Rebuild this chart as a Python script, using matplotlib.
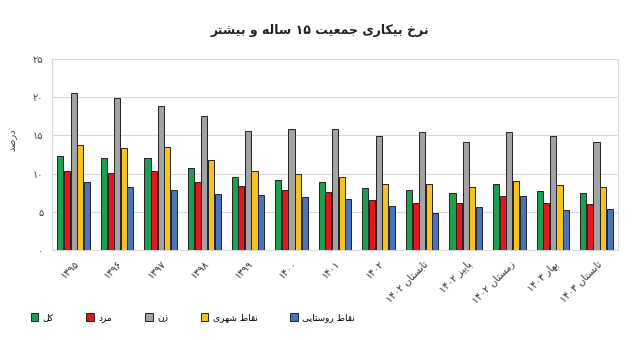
import re
import numpy as np
import matplotlib
matplotlib.use('Agg')
import matplotlib.pyplot as plt

plt.rcParams['font.family'] = ['DejaVu Sans']

# Persian text needs shaping (presentation forms) and right-to-left ordering
FORMS = {
    'ا': ('\uFE8D', '\uFE8E', None, None),
    'ب': ('\uFE8F', '\uFE90', '\uFE91', '\uFE92'),
    'پ': ('\uFB56', '\uFB57', '\uFB58', '\uFB59'),
    'ت': ('\uFE95', '\uFE96', '\uFE97', '\uFE98'),
    'ج': ('\uFE9D', '\uFE9E', '\uFE9F', '\uFEA0'),
    'خ': ('\uFEA5', '\uFEA6', '\uFEA7', '\uFEA8'),
    'د': ('\uFEA9', '\uFEAA', None, None),
    'ر': ('\uFEAD', '\uFEAE', None, None),
    'ز': ('\uFEAF', '\uFEB0', None, None),
    'س': ('\uFEB1', '\uFEB2', '\uFEB3', '\uFEB4'),
    'ش': ('\uFEB5', '\uFEB6', '\uFEB7', '\uFEB8'),
    'ص': ('\uFEB9', '\uFEBA', '\uFEBB', '\uFEBC'),
    'ط': ('\uFEC1', '\uFEC2', '\uFEC3', '\uFEC4'),
    'ع': ('\uFEC9', '\uFECA', '\uFECB', '\uFECC'),
    'ق': ('\uFED5', '\uFED6', '\uFED7', '\uFED8'),
    'ک': ('\uFB8E', '\uFB8F', '\uFB90', '\uFB91'),
    'ل': ('\uFEDD', '\uFEDE', '\uFEDF', '\uFEE0'),
    'م': ('\uFEE1', '\uFEE2', '\uFEE3', '\uFEE4'),
    'ن': ('\uFEE5', '\uFEE6', '\uFEE7', '\uFEE8'),
    'ه': ('\uFEE9', '\uFEEA', '\uFEEB', '\uFEEC'),
    'و': ('\uFEED', '\uFEEE', None, None),
    'ی': ('\uFBFC', '\uFBFD', '\uFBFE', '\uFBFF'),
}


def fa(text):
    out = []
    for i, c in enumerate(text):
        if c not in FORMS:
            out.append(c)
            continue
        iso, fin, ini, med = FORMS[c]
        prev = text[i - 1] if i > 0 else ''
        nxt = text[i + 1] if i + 1 < len(text) else ''
        jp = prev in FORMS and FORMS[prev][2] is not None
        jn = ini is not None and nxt in FORMS
        if jp and jn:
            out.append(med)
        elif jp:
            out.append(fin)
        elif jn:
            out.append(ini)
        else:
            out.append(iso)
    s = ''.join(out)[::-1]
    return re.sub(r'[\u06F0-\u06F9]+', lambda m: m.group(0)[::-1], s)


# data
periods = ['۱۳۹۵', '۱۳۹۶', '۱۳۹۷', '۱۳۹۸', '۱۳۹۹', '۱۴۰۰', '۱۴۰۱', '۱۴۰۲',
           'تابستان ۱۴۰۲', 'پاییز ۱۴۰۲', 'زمستان ۱۴۰۲', 'بهار ۱۴۰۳', 'تابستان ۱۴۰۳']
kol = [12.3, 12.1, 12.1, 10.7, 9.6, 9.2, 8.9, 8.1, 7.9, 7.5, 8.6, 7.7, 7.4]
mard = [10.4, 10.1, 10.4, 8.9, 8.4, 7.9, 7.6, 6.5, 6.2, 6.1, 7.1, 6.1, 6.0]
zan = [20.6, 19.9, 18.8, 17.5, 15.6, 15.9, 15.8, 14.9, 15.4, 14.1, 15.5, 14.9, 14.1]
shahri = [13.7, 13.4, 13.5, 11.8, 10.4, 9.9, 9.6, 8.7, 8.7, 8.2, 9.0, 8.5, 8.2]
roostaei = [8.9, 8.3, 7.9, 7.3, 7.2, 6.9, 6.7, 5.8, 4.9, 5.6, 7.1, 5.2, 5.3]

series_names = ['کل', 'مرد', 'زن', 'نقاط شهری', 'نقاط روستایی']
series = [kol, mard, zan, shahri, roostaei]
colors = ['#1f9e4f', '#e5161d', '#a3a3a3', '#f5c225', '#4a72c2']

fa_digits = '۰۱۲۳۴۵۶۷۸۹'
yticks = [0, 5, 10, 15, 20, 25]

fig = plt.figure(figsize=(6.4, 3.4), dpi=100)
ax = fig.add_axes([0.081, 0.265, 0.885, 0.561])

x = np.arange(len(periods))
w = 0.14
step = 0.152
for i, (vals, name, col) in enumerate(zip(series, series_names, colors)):
    ax.bar(x + (i - 2) * step, vals, width=w, color=col, edgecolor='#222222',
           linewidth=0.7, label=fa(name), zorder=3)

ax.set_xlim(-0.5, len(periods) - 0.5)
ax.set_ylim(0, 25)
ax.set_yticks(yticks)
ax.set_yticklabels([''.join(fa_digits[int(d)] for d in str(t)) for t in yticks],
                   fontsize=7, color='#444444')
ax.set_xticks(x)
ax.set_xticklabels([fa(p) for p in periods], rotation=45, ha='right',
                   rotation_mode='anchor', fontsize=7, color='#333333')
ax.tick_params(length=0, pad=6)
ax.yaxis.grid(True, color='#d9d9d9', linewidth=0.8, zorder=0)
for sp in ax.spines.values():
    sp.set_color('#d9d9d9')
    sp.set_linewidth(0.8)

fig.text(0.02, 0.59, fa('درصد'), rotation=90, fontsize=7, color='#444444',
         ha='center', va='center')
fig.text(0.5, 0.91, fa('نرخ بیکاری جمعیت ۱۵ ساله و بیشتر'), fontsize=9,
         fontweight='bold', ha='center', va='center', color='#222222')

fig.legend(loc='center left', bbox_to_anchor=(0.035, 0.066), ncol=5,
           frameon=False, fontsize=6.5, handlelength=0.85, handleheight=0.85,
           handletextpad=0.5, columnspacing=3.6)

fig.savefig('out.png', dpi=100)
